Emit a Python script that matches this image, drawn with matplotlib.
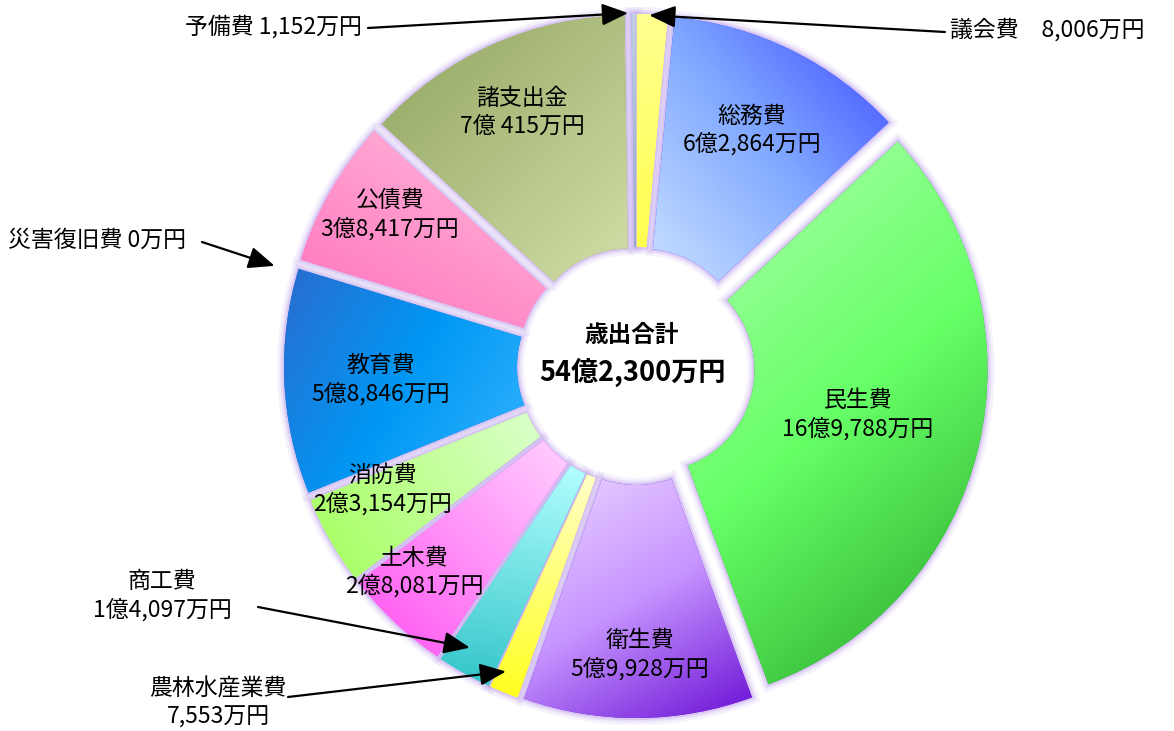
import numpy as np
import matplotlib
matplotlib.use("Agg")
import matplotlib.pyplot as plt
from matplotlib.patches import Wedge
from matplotlib.colors import LinearSegmentedColormap

plt.rcParams['font.family'] = ['Noto Sans CJK JP', 'DejaVu Sans']

# 歳出内訳（万円）　上から時計回り
items = ['議会費', '総務費', '民生費', '衛生費', '農林水産業費', '商工費', '土木費',
         '消防費', '教育費', '災害復旧費', '公債費', '諸支出金', '予備費']
amounts = [8006, 62864, 169788, 59928, 7553, 14097, 28081,
           23154, 58846, 0, 38417, 70415, 1152]
value_texts = ['8,006万円', '6億2,864万円', '16億9,788万円', '5億9,928万円', '7,553万円',
               '1億4,097万円', '2億8,081万円', '2億3,154万円', '5億8,846万円', '0万円',
               '3億8,417万円', '7億 415万円', '1,152万円']
total_text = '54億2,300万円'

# 色（明るい側 → 濃い側, 濃くなる向き[deg]）
grad = [(['#ffff90', '#ffff50'], -90),
        (['#c8e0ff', '#80a8ff', '#3c48ff'], 40),
        (['#b0ffb0', '#66ff66', '#28a428'], -50),
        (['#ecd4ff', '#c694ff', '#6a10d4'], -60),
        (['#ffffc8', '#ffff20'], -90),
        (['#b4ffff', '#30c4c8'], -100),
        (['#ffd0ff', '#ff50f0'], -135),
        (['#dcffcc', '#a4ff5c'], -150),
        (['#36b4ff', '#0098f4', '#2a6cd0'], 150),
        (['#ffffff', '#ffffff'], 0),
        (['#ffbcdc', '#ff70bc'], -120),
        (['#d2dea8', '#90a45e'], 135),
        (['#c0cfe6', '#98a8cc'], -90)]

W_PX, H_PX = 1174, 731
CX, CY = 636, H_PX - 366
R, R_IN = 335, 102
explode = [17] * len(amounts)

# ラベル配置（円の中心からの距離, 角度ずれ）
inner_pos = {'総務費': (263, 0), '民生費': (227, 1), '衛生費': (289, 0.4),
             '土木費': (303, -3.9), '消防費': (282, -3.7), '教育費': (256, 0.5),
             '公債費': (289, -1.8), '諸支出金': (278, 0)}
# 外側ラベル: 文字位置, 配置, 矢印始点, 矢印先(距離, 角度ずれ)
outer_pos = {'予備費': ((362, 27), 'right', (368, 28), (353, 0.9)),
             '議会費': ((950, 30), 'left', (945, 32), (351, 0.5)),
             '災害復旧費': ((8, 240), 'left', (202, 242), (375, 1.5)),
             '商工費': ((162, 596), 'center', (258, 607), (327, -1.3)),
             '農林水産業費': ((218, 703), 'center', (288, 697), (332, -1.0))}

fig = plt.figure(figsize=(W_PX / 100, H_PX / 100), dpi=100)
ax = fig.add_axes([0, 0, 1, 1])

wedges, _ = ax.pie(amounts, explode=explode, startangle=90, counterclock=False,
                   center=(CX, CY), radius=R,
                   wedgeprops=dict(width=R - R_IN, linewidth=0))

mids = []
for w, (cols, ang), v in zip(wedges, grad, amounts):
    mids.append((w.theta1 + w.theta2) / 2)
    if v == 0:
        w.set_visible(False)
        continue
    w.set_zorder(3)
    # 薄紫のぼかし縁
    for lw, al in [(10, 0.15), (6, 0.25), (3, 0.45)]:
        ax.add_patch(Wedge(w.center, w.r, w.theta1, w.theta2, width=w.width,
                           facecolor='none', edgecolor='#c4aaf0', lw=lw,
                           alpha=al, zorder=1))
    w.set_facecolor(cols[-1])
    ext = w.get_path().get_extents()
    xs = np.linspace(ext.x0, ext.x1, 200)
    ys = np.linspace(ext.y0, ext.y1, 200)
    X, Y = np.meshgrid(xs, ys)
    d = np.array([np.cos(np.radians(ang)), np.sin(np.radians(ang))])
    t = X * d[0] + Y * d[1]
    t = (t - t.min()) / (t.max() - t.min() + 1e-9)
    cmap = LinearSegmentedColormap.from_list('g', cols)
    im = ax.imshow(t, extent=(ext.x0, ext.x1, ext.y0, ext.y1), origin='lower',
                   cmap=cmap, vmin=0, vmax=1, interpolation='bilinear', zorder=4)
    im.set_clip_path(w)

lab_fs = 16.5
for name, val, mid in zip(items, value_texts, mids):
    if name in inner_pos:
        r, off = inner_pos[name]
        a = np.radians(mid + off)
        ax.text(CX + r * np.cos(a), CY + r * np.sin(a), f'{name}\n{val}',
                ha='center', va='center', fontsize=lab_fs, linespacing=1.25,
                color='black', zorder=6)
    elif name in outer_pos:
        (tx, ty), ha, (sx, sy), (r, off) = outer_pos[name]
        if ha == 'center':
            s = f'{name}\n{val}'
        elif name == '議会費':
            s = f'{name}\u3000{val}'
        else:
            s = f'{name} {val}'
        ax.text(tx, H_PX - ty, s, ha=ha, va='center', fontsize=lab_fs,
                linespacing=1.25, color='black', zorder=6)
        a = np.radians(mid + off)
        ax.annotate('', xy=(CX + r * np.cos(a), CY + r * np.sin(a)),
                    xytext=(sx, H_PX - sy),
                    arrowprops=dict(arrowstyle='-|>,head_length=1.0,head_width=0.42',
                                    color='black', lw=1.6, mutation_scale=16,
                                    shrinkA=0, shrinkB=0),
                    zorder=7)

ax.text(CX - 4, CY + 31, '歳出合計', ha='center', va='center', fontsize=17,
        fontweight='bold', zorder=6)
ax.text(CX - 4, CY - 6, total_text, ha='center', va='center', fontsize=19.5,
        fontweight='bold', zorder=6)

ax.set_xlim(0, W_PX)
ax.set_ylim(0, H_PX)
ax.set_aspect('equal')
ax.axis('off')
fig.savefig('out.png', dpi=100)
